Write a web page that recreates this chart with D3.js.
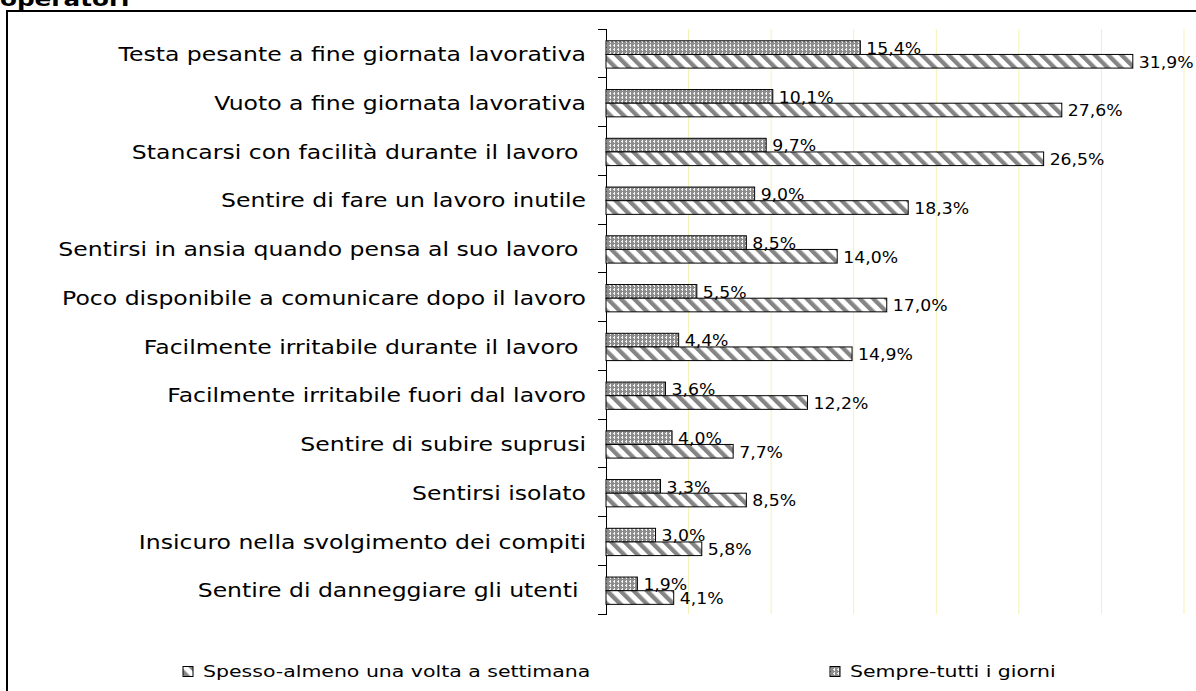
<!DOCTYPE html>
<html>
<head>
<meta charset="utf-8">
<script src="https://cdn.jsdelivr.net/npm/d3@7"></script>
<style>
  html, body { margin: 0; padding: 0; background: #fff; }
  svg { display: block; }
  text { font-family: "DejaVu Sans", Verdana, sans-serif; white-space: pre; }
</style>
</head>
<body>
<script>
// Symptoms reported by operators, share answering each frequency
const categories = [
  "Testa pesante a fine giornata lavorativa",
  "Vuoto a fine giornata lavorativa",
  "Stancarsi con facilità durante il lavoro ",
  "Sentire di fare un lavoro inutile",
  "Sentirsi in ansia quando pensa al suo lavoro ",
  "Poco disponibile a comunicare dopo il lavoro",
  "Facilmente irritabile durante il lavoro ",
  "Facilmente irritabile fuori dal lavoro",
  "Sentire di subire suprusi",
  "Sentirsi isolato",
  "Insicuro nella svolgimento dei compiti",
  "Sentire di danneggiare gli utenti "
];
const sempre = [15.4, 10.1, 9.7, 9.0, 8.5, 5.5, 4.4, 3.6, 4.0, 3.3, 3.0, 1.9];
const spesso = [31.9, 27.6, 26.5, 18.3, 14.0, 17.0, 14.9, 12.2, 7.7, 8.5, 5.8, 4.1];
const seriesNames = ["Spesso-almeno una volta a settimana", "Sempre-tutti i giorni"];
const gridTicks = [5, 10, 15, 20, 25, 30, 35];
const titleText = "operatori";

const W = 1196, H = 691;
const svg = d3.select("body").append("svg").attr("width", W).attr("height", H);

// fill patterns
const defs = svg.append("defs");
const cross = defs.append("pattern").attr("id", "pat-cross")
  .attr("patternUnits", "userSpaceOnUse").attr("width", 4).attr("height", 4);
cross.append("rect").attr("width", 4).attr("height", 4).attr("fill", "#8c8c8c");
cross.append("path").attr("d", "M1,1h2M2,0v3").attr("stroke", "#f2f2f2").attr("stroke-width", 1)
  .attr("shape-rendering", "crispEdges");

const stripe = defs.append("pattern").attr("id", "pat-stripe")
  .attr("patternUnits", "userSpaceOnUse").attr("width", 9.4).attr("height", 9.4)
  .attr("patternTransform", "rotate(-45)");
stripe.append("rect").attr("width", 9.4).attr("height", 9.4).attr("fill", "#fff");
stripe.append("rect").attr("width", 4.3).attr("height", 9.4).attr("fill", "#858585");

// horizontally stretched text
function stext(g, x, y, str, size, sx, anchor, weight) {
  return g.append("text")
    .attr("transform", `translate(${x},${y}) scale(${sx},1)`)
    .attr("text-anchor", anchor || "start")
    .attr("dominant-baseline", "central")
    .attr("font-size", size)
    .attr("font-weight", weight || "normal")
    .attr("fill", "#000")
    .text(str);
}

// title (runs off the top edge) and frame
svg.append("text")
  .attr("transform", "translate(0,6) scale(1.3,1)")
  .attr("font-size", 19).attr("font-weight", "bold").attr("fill", "#000")
  .text(titleText);
svg.append("rect").attr("x", 7).attr("y", 11).attr("width", 1300).attr("height", 800)
  .attr("fill", "none").attr("stroke", "#000").attr("stroke-width", 2);

// scales
const x = d3.scaleLinear().domain([0, 35]).range([606, 1184]);
const y = d3.scaleBand().domain(categories).range([29, 614]).paddingInner(0).paddingOuter(0);
const inner = d3.scaleBand().domain(["sempre", "spesso"]).range([0, y.bandwidth()])
  .paddingInner(0).paddingOuter(0.786).align(0.55);

// gridlines
svg.append("g").selectAll("line").data(gridTicks).join("line")
  .attr("x1", d => x(d)).attr("x2", d => x(d))
  .attr("y1", 29).attr("y2", 614)
  .attr("stroke", "#f3f3b4").attr("stroke-width", 1);

// category axis
const axisG = svg.append("g");
axisG.append("line").attr("x1", x(0)).attr("x2", x(0)).attr("y1", 29).attr("y2", 614.5)
  .attr("stroke", "#000").attr("stroke-width", 1).attr("shape-rendering", "crispEdges");
const bounds = categories.map(c => y(c)).concat([y(categories[categories.length - 1]) + y.bandwidth()]);
axisG.selectAll("line.tick").data(bounds).join("line").attr("class", "tick")
  .attr("x1", x(0) - 8).attr("x2", x(0)).attr("y1", d => d).attr("y2", d => d)
  .attr("stroke", "#000").attr("stroke-width", 1).attr("shape-rendering", "crispEdges");

const labG = svg.append("g");
categories.forEach(c => {
  stext(labG, 586, y(c) + y.bandwidth() / 2 + 1, c, 19, 1.24, "end");
});

// bars
const fmt = v => d3.format(".1f")(v).replace(".", ",") + "%";
const rows = categories.map((c, i) => ({ c, sempre: sempre[i], spesso: spesso[i] }));
const series = [
  { key: "sempre", fill: "url(#pat-cross)" },
  { key: "spesso", fill: "url(#pat-stripe)" }
];
const barG = svg.append("g");
const valG = svg.append("g");
series.forEach(s => {
  barG.selectAll(null).data(rows).join("rect")
    .attr("x", x(0))
    .attr("y", d => y(d.c) + inner(s.key))
    .attr("width", d => x(d[s.key]) - x(0))
    .attr("height", inner.bandwidth())
    .attr("fill", s.fill).attr("stroke", "#000").attr("stroke-width", 1);
  rows.forEach(d => {
    stext(valG, x(d[s.key]) + 6, y(d.c) + inner(s.key) + inner.bandwidth() / 2 + 1,
      fmt(d[s.key]), 16, 1.08, "start");
  });
});

// legend
const legG = svg.append("g");
const legItems = [
  { name: seriesNames[0], fill: "url(#pat-stripe)", x: 183 },
  { name: seriesNames[1], fill: "url(#pat-cross)", x: 830 }
];
legItems.forEach(l => {
  legG.append("rect").attr("x", l.x).attr("y", 666.5).attr("width", 10).attr("height", 10)
    .attr("fill", l.fill).attr("stroke", "#000").attr("stroke-width", 1);
  stext(legG, l.x + 20, 671.5, l.name, 16, 1.28, "start");
});
</script>
</body>
</html>
